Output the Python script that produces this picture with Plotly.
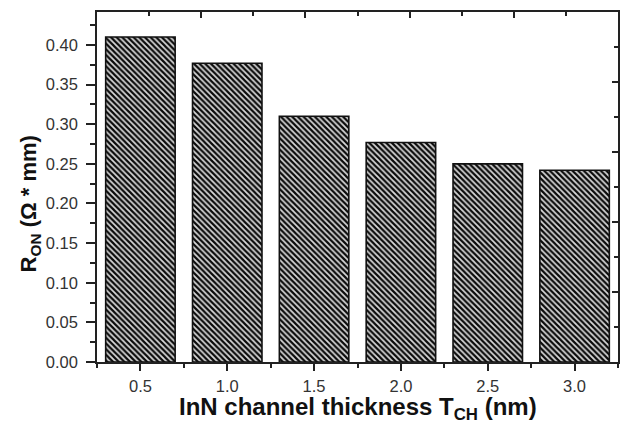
import plotly.graph_objects as go

thickness = [0.5, 1.0, 1.5, 2.0, 2.5, 3.0]
r_on = [0.410, 0.377, 0.310, 0.277, 0.250, 0.242]
x_ticks = [0.5, 1.0, 1.5, 2.0, 2.5, 3.0]

fig = go.Figure()
fig.add_trace(go.Bar(
    x=thickness, y=r_on, width=0.4,
    marker=dict(
        color="#cfcfcf",
        line=dict(color="#111111", width=1.6),
        pattern=dict(shape="\\", size=4, solidity=0.55,
                     fgcolor="#0a0a0a", bgcolor="#d8d8d8", fillmode="replace"),
    ),
    showlegend=False,
))
# invisible trace for mirrored top/right axes
fig.add_trace(go.Scatter(x=[None], y=[None], xaxis="x2", yaxis="y2",
                         mode="markers", showlegend=False, hoverinfo="skip"))

axis_col = "#222222"
font_main = "Liberation Sans, Arial, sans-serif"

fig.update_layout(
    width=622, height=426,
    margin=dict(l=97, r=4, t=12, b=64),
    paper_bgcolor="white", plot_bgcolor="white",
    font=dict(family=font_main, color="#222222"),
    xaxis=dict(
        range=[0.25, 3.25], tickvals=x_ticks, tickformat=".1f",
        ticks="outside", ticklen=7, tickwidth=1.6, tickcolor=axis_col,
        minor=dict(tick0=0.25, dtick=0.5, ticks="outside", ticklen=4,
                   tickwidth=1.6, tickcolor=axis_col),
        showline=True, linecolor=axis_col, linewidth=1.6,
        showgrid=False, zeroline=False,
        tickfont=dict(size=16.5, color="#333333", family=font_main),
        ticklabelstandoff=1,
    ),
    yaxis=dict(
        range=[0, 0.4416], dtick=0.05, tickformat=".2f",
        ticks="outside", ticklen=9, tickwidth=1.6, tickcolor=axis_col,
        minor=dict(dtick=0.025, ticks="outside", ticklen=5,
                   tickwidth=1.6, tickcolor=axis_col),
        showline=True, linecolor=axis_col, linewidth=1.6,
        showgrid=False, zeroline=False,
        tickfont=dict(size=16.5, color="#333333", family=font_main),
        ticklabelstandoff=5,
    ),
    xaxis2=dict(
        overlaying="x", side="top", range=[0, 10], dtick=2,
        ticks="inside", ticklen=6, tickwidth=1.6, tickcolor=axis_col,
        minor=dict(dtick=1, ticks="inside", ticklen=4, tickwidth=1.6,
                   tickcolor=axis_col),
        showticklabels=False, showline=True, linecolor=axis_col, linewidth=1.6,
        showgrid=False, zeroline=False,
    ),
    yaxis2=dict(
        overlaying="y", side="right", range=[0, 10], dtick=2,
        ticks="inside", ticklen=6, tickwidth=1.6, tickcolor=axis_col,
        minor=dict(dtick=1, ticks="inside", ticklen=4, tickwidth=1.6,
                   tickcolor=axis_col),
        showticklabels=False, showline=True, linecolor=axis_col, linewidth=1.6,
        showgrid=False, zeroline=False,
    ),
    annotations=[
        dict(text="<b>InN channel thickness T<sub>CH</sub> (nm)</b>",
             xref="paper", yref="paper", x=0.5, y=-0.134,
             xanchor="center", yanchor="middle", showarrow=False,
             font=dict(size=24, color="#111111", family=font_main)),
        dict(text="<b>R<sub>ON</sub> (Ω * mm)</b>",
             xref="paper", yref="paper", x=-0.128, y=0.451,
             xanchor="center", yanchor="middle", textangle=-90, showarrow=False,
             font=dict(size=22, color="#111111", family=font_main)),
    ],
)

fig.write_html("out.html")
